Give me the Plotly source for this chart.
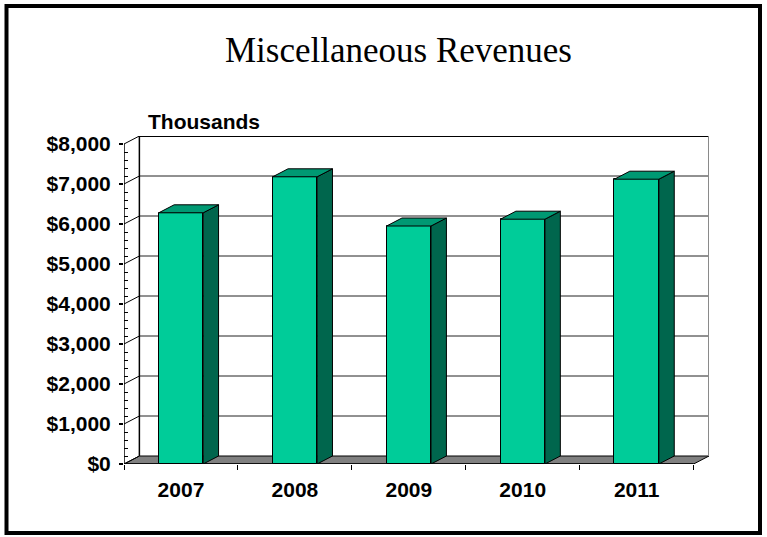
import plotly.graph_objects as go

# Miscellaneous revenues by fiscal year, in thousands of dollars
years = ["2007", "2008", "2009", "2010", "2011"]
revenues = [6280, 7180, 5950, 6120, 7120]

y_tick_values = [0, 1000, 2000, 3000, 4000, 5000, 6000, 7000, 8000]
y_tick_labels = ["$0", "$1,000", "$2,000", "$3,000", "$4,000",
                 "$5,000", "$6,000", "$7,000", "$8,000"]

# Pseudo-3D geometry: depth offset in axis units (x = category units, y = value units)
DX = 0.135
DY = 200
BAR_W = 0.39
Y_MAX = 8000

FRONT = "#00CC99"
SIDE = "#00664D"
TOP = "#009973"
FLOOR = "#808080"

W, H = 767, 537
ML, MR, MT, MB = 124, 58, 136, 73
PW, PH = W - ML - MR, H - MT - MB

n = len(years)
xs = list(range(n))
x_lo, x_hi = -0.5, n - 0.5


def px_x(p):
    return (p - ML) / PW


def px_y(p):
    return (H - MB - p) / PH


fig = go.Figure()

fig.add_trace(go.Bar(
    x=xs, y=revenues, width=BAR_W,
    marker=dict(color=FRONT, line=dict(color="black", width=1)),
    hoverinfo="skip", showlegend=False,
))

shapes = []

# back wall gridlines
for v in y_tick_values[1:-1]:
    shapes.append(dict(type="line", xref="x", yref="y", layer="below",
                       x0=x_lo + DX, x1=x_hi + DX, y0=v + DY, y1=v + DY,
                       line=dict(color="#222222", width=1)))

# floor
shapes.append(dict(type="path", xref="x", yref="y", layer="below",
                   path=f"M {x_lo},0 L {x_hi},0 L {x_hi + DX},{DY} L {x_lo + DX},{DY} Z",
                   fillcolor=FLOOR, line=dict(color="black", width=1)))

# back wall edges
shapes.append(dict(type="line", xref="x", yref="y", layer="below",
                   x0=x_lo + DX, x1=x_lo + DX, y0=DY, y1=Y_MAX + DY,
                   line=dict(color="black", width=1.5)))
shapes.append(dict(type="line", xref="x", yref="y", layer="below",
                   x0=x_lo + DX, x1=x_hi + DX, y0=Y_MAX + DY, y1=Y_MAX + DY,
                   line=dict(color="black", width=2)))
shapes.append(dict(type="line", xref="x", yref="y", layer="below",
                   x0=x_hi + DX, x1=x_hi + DX, y0=DY, y1=Y_MAX + DY,
                   line=dict(color="#8a8a8a", width=2)))

# left wall: front axis line and the receding tick lines
shapes.append(dict(type="line", xref="x", yref="y", layer="below",
                   x0=x_lo, x1=x_lo, y0=0, y1=Y_MAX,
                   line=dict(color="black", width=1.5)))
for v in y_tick_values:
    shapes.append(dict(type="line", xref="x", yref="y", layer="below",
                       x0=x_lo, x1=x_lo + DX, y0=v, y1=v + DY,
                       line=dict(color="black", width=1)))

# front floor edge
shapes.append(dict(type="line", xref="x", yref="y", layer="below",
                   x0=x_lo, x1=x_hi, y0=0, y1=0,
                   line=dict(color="black", width=1.5)))

# bar side and top faces
for x, v in zip(xs, revenues):
    r = x + BAR_W / 2
    l = x - BAR_W / 2
    shapes.append(dict(type="path", xref="x", yref="y", layer="above",
                       path=f"M {r},0 L {r + DX},{DY} L {r + DX},{v + DY} L {r},{v} Z",
                       fillcolor=SIDE, line=dict(color="black", width=1)))
    shapes.append(dict(type="path", xref="x", yref="y", layer="above",
                       path=f"M {l},{v} L {l + DX},{v + DY} L {r + DX},{v + DY} L {r},{v} Z",
                       fillcolor=TOP, line=dict(color="black", width=1)))

# outer frame
shapes.append(dict(type="rect", xref="paper", yref="paper",
                   x0=px_x(6.5), x1=px_x(760), y0=px_y(533), y1=px_y(6),
                   line=dict(color="black", width=4), fillcolor="rgba(0,0,0,0)"))

minor_y = [v for v in range(0, Y_MAX + 1, 200) if v % 1000]
boundaries = [i - 0.5 for i in range(n + 1)]

fig.update_layout(
    width=W, height=H, autosize=False,
    margin=dict(l=ML, r=MR, t=MT, b=MB, pad=0),
    paper_bgcolor="white", plot_bgcolor="white",
    shapes=shapes,
    bargap=0,
    xaxis=dict(
        range=[x_lo, x_hi + DX], showgrid=False, zeroline=False, showline=False,
        tickmode="array", tickvals=xs, ticktext=years, ticks="",
        ticklabelstandoff=11,
        tickfont=dict(family="Liberation Sans, Arial", size=21, color="black", weight="bold"),
        minor=dict(tickmode="array", tickvals=boundaries, ticks="outside",
                   ticklen=5, tickwidth=1, tickcolor="black", showgrid=False),
        fixedrange=True,
    ),
    yaxis=dict(
        range=[0, Y_MAX + DY], showgrid=False, zeroline=False, showline=False,
        tickmode="array", tickvals=y_tick_values, ticktext=y_tick_labels,
        ticks="outside", ticklen=4, tickwidth=1.5, tickcolor="black",
        ticklabelstandoff=4,
        tickfont=dict(family="Liberation Sans, Arial", size=21, color="black", weight="bold"),
        minor=dict(tickmode="array", tickvals=minor_y, ticks="inside",
                   ticklen=4, tickwidth=1, tickcolor="black", showgrid=False),
        fixedrange=True,
    ),
    annotations=[
        dict(text="Miscellaneous Revenues", xref="paper", yref="paper",
             x=px_x(398), y=px_y(50), xanchor="center", yanchor="middle",
             showarrow=False,
             font=dict(family="Liberation Serif, Times New Roman", size=35, color="black")),
        dict(text="Thousands", xref="paper", yref="paper",
             x=px_x(146), y=px_y(122), xanchor="left", yanchor="middle",
             showarrow=False,
             font=dict(family="Liberation Sans, Arial", size=21, color="black", weight="bold")),
    ],
)

fig.write_html("out.html")
